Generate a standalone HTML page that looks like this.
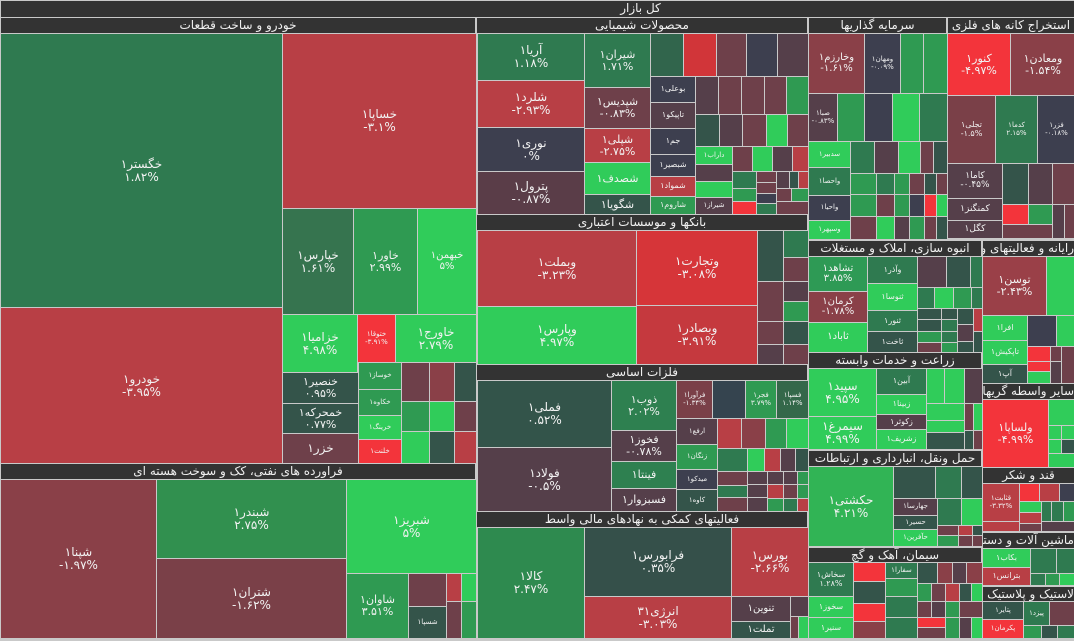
<!DOCTYPE html>
<html><head><meta charset="utf-8">
<style>
html,body{margin:0;padding:0;}
body{width:1074px;height:641px;background:#c9c9c9;position:relative;overflow:hidden;font-family:"DejaVu Sans","Liberation Sans",sans-serif;}
.c{position:absolute;overflow:hidden;color:#f2f2f2;display:flex;flex-direction:column;align-items:center;justify-content:center;text-align:center;line-height:1.05;white-space:nowrap;}
.h{position:absolute;background:#333;color:#f0f0f0;font-size:12px;overflow:hidden;white-space:nowrap;direction:rtl;text-align:center;line-height:15px;box-sizing:border-box;}
</style></head><body>
<script>
var C={G1:"#2f7a50",G2:"#2f9a52",G3:"#30cc5a",R1:"#b83f45",R2:"#f3343b",M:"#6e404a",M2:"#8a4048",D:"#3d3f4f",T:"#34544a",P:"#553f4a"};
var H=[
[0,0,1074,16,"کل بازار","padding-left:206px"],
[0,17,475,32,"خودرو و ساخت قطعات"],
[0,463,475,478,"فراورده های نفتی، کک و سوخت هسته ای"],
[476,17,807,32,"محصولات شیمیایی"],
[476,214,807,229,"بانکها و موسسات اعتباری"],
[476,364,807,379,"فلزات اساسی"],
[476,511,807,526,"فعالیتهای کمکی به نهادهای مالی واسط"],
[808,17,946,32,"سرمایه گذاریها"],
[947,17,1074,32,"استخراج کانه های فلزی"],
[808,240,981,255,"انبوه سازی، املاک و مستغلات"],
[808,352,981,367,"زراعت و خدمات وابسته"],
[808,450,981,465,"حمل ونقل، انبارداری و ارتباطات"],
[808,547,981,561,"سیمان، آهک و گچ"],
[982,240,1074,255,"رایانه و فعالیتهای وابسته","text-align:right"],
[982,383,1074,398,"سایر واسطه گریهای مالی","text-align:right"],
[982,467,1074,482,"قند و شکر"],
[982,532,1074,547,"ماشین آلات و دستگاههای برقی","text-align:right"],
[982,586,1074,600,"لاستیک و پلاستیک","text-align:right"]
];
var R=[
[0,33,281,306,"G1","خگستر۱","۱.۸۲%"],
[0,307,281,462,"R1","خودرو۱","-۳.۹۵%"],
[282,33,475,207,"R1","خساپا۱","-۳.۱%"],
[282,208,352,313,"#36744f","خپارس۱","۱.۶۱%"],
[353,208,416,313,"G2","خاور۱","۲.۹۹%"],
[417,208,475,313,"G3","خبهمن۱","۵%"],
[282,314,356,371,"G3","خزامیا۱","۴.۹۸%"],
[357,314,394,361,"R2","ختوقا۱","-۳.۹۱%"],
[395,314,475,361,"G3","خاورج۱","۲.۷۹%"],
[282,372,357,402,"T","خنصیر۱","۰.۹۵%"],
[282,403,357,432,"T","خمحرکه۱","۰.۷۷%"],
[282,433,357,462,"M","خزر۱",""],
[358,362,400,388,"G2","خوساز۱"],[358,389,400,414,"G2","خکاوه۱"],[358,415,400,438,"G3","خرینگ۱"],[358,439,400,462,"R2","خلنت۱"],
[401,362,428,400,"M"],[429,362,453,400,"M2"],[454,362,475,400,"T"],
[401,401,428,430,"G2"],[429,401,453,430,"G3"],[454,401,475,430,"M"],
[401,431,428,462,"G3"],[429,431,453,462,"T"],[454,431,475,462,"R1"],
[0,479,155,637,"#8a4048","شپنا۱","-۱.۹۷%"],
[156,479,345,557,"#31904f","شبندر۱","۲.۷۵%"],
[156,558,345,637,"#7a4048","شتران۱","-۱.۶۲%"],
[346,479,475,572,"G3","شبریز۱","۵%"],
[346,573,407,637,"G2","شاوان۱","۳.۵۱%"],
[408,573,445,605,"M"],[408,606,445,637,"T","شسپا۱"],
[446,573,460,600,"R1"],[461,573,475,600,"G3"],[446,601,460,637,"M"],[461,601,475,637,"G2"],
[477,33,583,79,"G1","آریا۱","۱.۱۸%"],
[477,80,583,126,"R1","شلرد۱","-۲.۹۳%"],
[477,127,583,170,"D","نوری۱","۰%"],
[477,171,583,213,"#5a3d48","پترول۱","-۰.۸۷%"],
[584,33,649,86,"G1","شیران۱","۱.۷۱%"],
[584,87,649,127,"M","شپدیس۱","-۰.۸۳%"],
[584,128,649,161,"R1","شپلی۱","-۲.۷۵%"],
[584,162,649,193,"G3","شصدف۱"],
[584,194,649,213,"T","شگویا۱"],
[650,33,682,75,"#31654c"],[683,33,715,75,"#d13539"],[716,33,745,75,"M"],[746,33,776,75,"D"],[777,33,807,75,"P"],
[650,76,694,101,"D","بوعلی۱"],[650,102,694,127,"P","تاپیکو۱"],[650,128,694,153,"D","جم۱"],[650,154,694,175,"D","شبصیر۱"],[650,176,694,195,"R1","شمواد۱"],[650,196,694,213,"G2","شاروم۱"],
[695,76,717,113,"P"],[718,76,740,113,"M"],[741,76,763,113,"M"],[764,76,785,113,"M"],[786,76,807,113,"G2"],
[695,114,718,145,"T"],[719,114,741,145,"P"],[742,114,765,145,"M"],[766,114,786,145,"G3"],[787,114,807,145,"M"],
[695,146,731,163,"G3","داراب۱"],[695,164,731,180,"P"],[695,181,731,196,"G3"],[695,197,731,213,"P","شیراز۱"],
[732,146,751,170,"M"],[752,146,771,170,"G3"],[772,146,791,170,"P"],[792,146,807,170,"R1"],
[732,171,755,187,"G1"],[732,188,755,200,"G2"],[732,201,755,213,"R2"],
[756,171,775,181,"M"],[756,182,775,192,"M"],[756,193,775,202,"D"],[756,203,775,213,"G1"],
[776,171,788,187,"P"],[789,171,797,187,"T"],[798,171,807,187,"R1"],[776,188,790,200,"M"],[791,188,807,200,"G2"],[776,201,807,213,"M"],
[477,230,635,305,"R1","وبملت۱","-۳.۲۳%"],
[477,306,635,363,"G3","وپارس۱","۴.۹۷%"],
[636,230,756,304,"#d63539","وتجارت۱","-۳.۰۸%"],
[636,305,756,363,"#c5393e","وبصادر۱","-۳.۹۱%"],
[757,230,782,280,"T"],[783,230,807,256,"G1"],[783,257,807,280,"M"],[757,281,782,320,"M"],[783,281,807,300,"P"],[783,301,807,320,"G2"],[757,321,782,343,"M"],[757,344,782,363,"P"],[783,321,807,343,"T"],[783,344,807,363,"M"],
[477,380,610,446,"#33544a","فملی۱","۰.۵۲%"],
[477,447,610,510,"#553f4a","فولاد۱","-۰.۵%"],
[611,380,675,429,"#2e8050","ذوب۱","۲.۰۲%"],
[611,430,675,460,"P","فخوز۱","-۰.۷۸%"],
[611,461,675,487,"#2e8050","فینتا۱"],
[611,488,675,510,"P","فسبزوار۱"],
[676,380,711,417,"#7a4048","فرآورا۱","-۱.۳۴%"],[712,380,744,417,"#35444f"],[745,380,775,417,"G2","فجر۱","۳.۷۹%"],[776,380,807,417,"#34684a","فسپا۱","۱.۱۴%"],
[676,418,716,443,"P","ارفع۱"],[676,444,716,468,"G2","زنگان۱"],[676,469,716,488,"D","میدکو۱"],[676,489,716,510,"T","کاوه۱"],
[717,418,740,447,"R1"],[741,418,764,447,"M2"],[765,418,785,447,"G2"],[786,418,807,447,"G3"],
[717,448,746,470,"G1"],[747,448,763,470,"G3"],[764,448,779,470,"R1"],[780,448,794,470,"P"],[795,448,807,470,"T"],
[717,471,746,484,"M"],[717,485,746,496,"G1"],[717,497,746,510,"M"],
[747,471,766,483,"P"],[747,484,766,496,"P"],[747,497,766,510,"P"],
[767,471,782,483,"P"],[783,471,796,483,"P"],[797,471,807,483,"G2"],[767,484,782,497,"R1"],[783,484,796,497,"M"],[797,484,807,497,"G2"],[767,498,782,510,"G2"],[783,498,796,510,"G1"],[797,498,807,510,"R1"],
[477,527,583,637,"#2e8a4f","کالا۱","۲.۴۷%"],
[584,527,730,595,"#35504a","فرابورس۱","۰.۳۵%"],
[584,596,730,637,"R1","انرژی۳۱","-۳.۰۳%"],
[731,527,807,595,"R1","بورس۱","-۲.۶۶%"],
[731,596,789,620,"P","تنوین۱"],[731,621,789,637,"T","تملت۱"],
[790,596,807,615,"P"],[790,616,797,637,"M"],[798,616,807,637,"G3"],
[808,33,863,92,"M2","وخارزم۱","-۱.۶۱%"],[864,33,899,92,"D","ومهان۱","-۰.۰۹%"],[900,33,922,92,"G2"],[923,33,946,92,"G2"],
[808,93,836,140,"P","صبا۱","-۰.۸۳%"],[837,93,863,140,"G2"],[864,93,891,140,"D"],[892,93,918,140,"G3"],[919,93,946,140,"G1"],
[808,141,849,166,"G3","سدبیر۱"],[808,167,849,194,"G1","واحصا۱"],[808,195,849,219,"D","واحیا۱"],[808,220,849,238,"G3","وسپهر۱"],
[850,141,873,172,"G1"],[874,141,897,172,"P"],[898,141,919,172,"G3"],[920,141,932,172,"M"],[933,141,946,172,"T"],
[850,173,875,193,"G2"],[876,173,893,193,"G1"],[894,173,908,193,"G2"],[909,173,923,193,"M"],[924,173,935,193,"T"],[936,173,946,193,"M"],
[850,194,875,215,"G2"],[876,194,893,215,"M"],[894,194,908,215,"G2"],[909,194,923,215,"D"],[924,194,935,215,"R2"],[936,194,946,215,"G3"],
[850,216,875,238,"M"],[876,216,893,238,"G3"],[894,216,908,238,"P"],[909,216,923,238,"G2"],[924,216,935,238,"M"],[936,216,946,238,"T"],
[947,33,1009,94,"R2","کنور۱","-۴.۹۷%"],[1010,33,1074,94,"M2","ومعادن۱","-۱.۵۴%"],
[947,95,994,162,"#7a4048","تجلی۱","-۱.۵%"],[995,95,1036,162,"G1","کدما۱","۲.۱۵%"],[1037,95,1074,162,"D","فزر۱","-۰.۱۸%"],
[947,163,1001,197,"P","کاما۱","-۰.۴۵%"],[947,198,1001,219,"P","کمنگنز۱"],[947,220,1001,237,"P","کگل۱"],
[1002,163,1027,203,"T"],[1028,163,1051,203,"P"],[1052,163,1074,203,"M"],
[1002,204,1027,223,"R2"],[1028,204,1051,223,"G2"],[1052,204,1063,237,"P"],[1064,204,1074,237,"M"],[1002,224,1051,237,"M"],
[808,256,866,290,"#2e9a55","تشاهد۱","۳.۸۵%"],[808,291,866,321,"M2","کرمان۱","-۱.۷۸%"],[808,322,866,351,"G3","ثاباد۱"],
[867,256,916,282,"G1","وآذر۱"],[867,283,916,309,"G3","ثنوسا۱"],[867,310,916,330,"G1","ثنور۱"],[867,331,916,351,"T","ثاخت۱"],
[917,256,945,286,"P"],[946,256,969,286,"T"],[970,256,981,286,"G1"],
[917,287,933,307,"G1"],[934,287,952,307,"G3"],[953,287,970,307,"G2"],[971,287,981,307,"G1"],
[917,308,940,318,"T"],[917,319,940,330,"T"],[917,331,940,341,"G2"],[917,342,940,351,"M"],
[941,308,956,318,"T"],[941,319,956,330,"G1"],[941,331,956,341,"G1"],[941,342,956,351,"G2"],
[957,308,972,323,"T"],[957,324,972,340,"P"],[957,341,972,351,"T"],[973,308,981,330,"R1"],[973,331,981,351,"T"],
[808,368,875,415,"G3","سپید۱","۴.۹۵%"],[808,416,875,448,"G3","سیمرغ۱","۴.۹۹%"],
[876,368,925,393,"G1","آبین۱"],[876,394,925,413,"G3","زبینا۱"],[876,414,925,428,"P","زکوثر۱"],[876,429,925,448,"G3","زشریف۱"],
[926,368,943,402,"G3"],[944,368,963,402,"G3"],[964,368,981,402,"P"],
[926,403,963,419,"G3"],[964,403,972,429,"M"],[973,403,981,429,"G3"],[926,420,963,431,"G3"],[926,432,963,448,"T"],[964,430,972,448,"T"],[973,430,981,448,"M"],
[808,466,892,545,"#31b455","حکشتی۱","۴.۲۱%"],
[893,466,934,497,"T"],[935,466,960,497,"G1"],[961,466,981,497,"T"],
[893,498,936,514,"P","جهارسا۱"],[893,515,936,528,"T","حسیر۱"],[893,529,936,545,"G3","حآفرین۱"],
[937,498,960,524,"G1"],[961,498,981,524,"G3"],
[937,525,957,534,"M"],[958,525,971,534,"R1"],[972,525,981,534,"T"],[937,535,957,545,"G2"],[958,535,971,545,"M"],[972,535,981,545,"M"],
[808,562,852,595,"G1","سخاش۱","۱.۲۸%"],[808,596,852,616,"G3","سخوز۱"],[808,617,852,637,"G3","سنیر۱"],
[853,562,884,580,"R2"],[853,581,884,602,"T"],[853,603,884,620,"R2"],[853,621,884,637,"M2"],
[885,562,916,577,"G1","سفارا۱"],[885,578,916,595,"G2"],[885,596,916,616,"G1"],[885,617,916,637,"G1"],
[917,562,936,582,"T"],[937,562,951,582,"M2"],[952,562,965,582,"P"],[966,562,981,582,"M2"],
[917,583,930,600,"G2"],[931,583,944,600,"M"],[945,583,958,600,"R1"],[959,583,970,600,"T"],[971,583,981,600,"G3"],
[917,601,930,616,"M"],[931,601,944,616,"P"],[945,601,958,616,"G2"],[959,601,981,616,"M"],
[917,617,944,626,"R2"],[917,627,944,637,"M"],[945,617,958,637,"G2"],[959,617,970,637,"P"],[971,617,981,637,"G3"],
[982,256,1045,314,"#9a4048","توسن۱","-۲.۴۳%"],[1046,256,1074,314,"G3"],
[982,315,1026,339,"G3","افرا۱"],[982,340,1026,363,"G3","تاپکیش۱"],[982,364,1026,382,"T","آپ۱"],
[1027,315,1055,345,"D"],[1056,315,1074,345,"G3"],
[1027,346,1049,360,"R2"],[1027,361,1049,370,"R2"],[1027,371,1049,382,"G3"],
[1050,346,1060,360,"M"],[1061,346,1074,382,"M"],[1050,361,1060,382,"P"],
[982,399,1047,466,"R2","ولساپا۱","-۴.۹۹%"],
[1048,399,1074,424,"G3"],[1048,425,1060,438,"G3"],[1061,425,1074,438,"G3"],[1048,439,1060,452,"G3"],[1061,439,1074,452,"T"],[1048,453,1074,466,"G3"],
[982,483,1018,520,"R1","قثابت۱","-۳.۳۲%"],[982,521,1018,530,"R1"],
[1019,483,1038,500,"R2"],[1039,483,1058,500,"R1"],[1059,483,1074,500,"D"],
[1019,501,1040,511,"G3"],[1041,501,1050,520,"G1"],[1051,501,1062,520,"G1"],[1063,501,1074,520,"G2"],
[1019,512,1040,522,"R1"],[1019,523,1040,530,"M"],[1041,521,1074,530,"P"],
[982,548,1029,566,"G3","بکاب۱"],[982,567,1029,584,"R1","بترانس۱"],
[1030,548,1055,572,"G1"],[1056,548,1074,572,"G1"],[1030,573,1044,584,"G1"],[1045,573,1058,584,"G2"],[1059,573,1074,584,"G3"],
[982,601,1022,618,"T","پتایر۱"],[982,619,1022,637,"R2","پکرمان۱"],
[1023,601,1048,624,"G1","پیزد۱"],[1049,601,1074,624,"M"],[1023,625,1040,637,"G2"],[1041,625,1056,637,"T"],[1057,625,1074,637,"G1"]
];
var out="";
H.forEach(function(h){
 out+='<div class="h" style="left:'+(h[0]+1)+'px;top:'+(h[1]+1)+'px;width:'+(h[2]-h[0]-1)+'px;height:'+(h[3]-h[1])+'px;'+(h[5]||"")+'">'+h[4]+'</div>';
});
R.forEach(function(r){
 var w=r[2]-r[0], hh=r[3]-r[1]; var col=C[r[4]]||r[4];
 var fs=Math.max(7,Math.min(12,Math.floor(Math.min(w/5.5,hh/(r[6]?2.6:1.6)))));
 var t="";
 if(r[5]){t='<div>'+r[5]+'</div>'; if(r[6]) t+='<div dir="ltr">'+r[6]+'</div>';}
 out+='<div class="c" style="left:'+(r[0]+1)+'px;top:'+(r[1]+1)+'px;width:'+w+'px;height:'+hh+'px;background:'+col+';font-size:'+fs+'px">'+t+'</div>';
});
document.body.innerHTML+=out;
</script>
</body></html>
